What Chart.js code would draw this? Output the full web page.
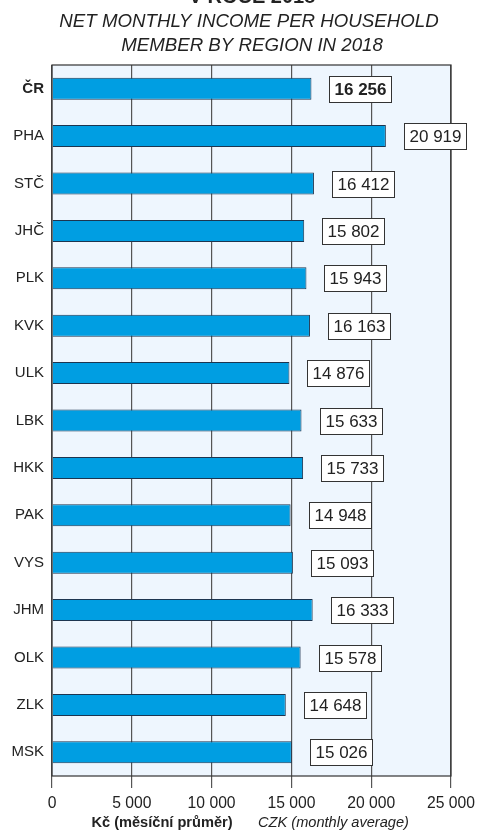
<!DOCTYPE html>
<html><head><meta charset="utf-8">
<script src="https://cdn.jsdelivr.net/npm/chart.js@4"></script>
<style>html,body{margin:0;padding:0;background:#fff}#wrap{width:481px;height:832px;position:relative}</style>
</head><body><div id="wrap"><canvas id="c" width="481" height="832"></canvas></div>
<script>
const regions = ["ČR","PHA","STČ","JHČ","PLK","KVK","ULK","LBK","HKK","PAK","VYS","JHM","OLK","ZLK","MSK"];
const income = [16256,20919,16412,15802,15943,16163,14876,15633,15733,14948,15093,16333,15578,14648,15026];
const xTicks = [0,5000,10000,15000,20000,25000];
const titleTop = "V ROCE 2018";
const titleLines = ["NET MONTHLY INCOME PER HOUSEHOLD","MEMBER BY REGION IN 2018"];
const axisCz = "Kč (měsíční průměr)";
const axisEn = "CZK (monthly average)";

const FONT = '"Liberation Sans", Arial, Helvetica, sans-serif';
const fmt = v => String(v).replace(/\B(?=(\d{3})+(?!\d))/g, ' ');

const deco = {
  id:'deco',
  beforeDraw(chart){
    const {ctx, chartArea:a} = chart;
    ctx.save();
    ctx.fillStyle = '#eef6fe';
    ctx.fillRect(a.left, a.top, a.right-a.left, a.bottom-a.top);
    ctx.restore();
  },
  afterDatasetsDraw(chart){
    const {ctx, chartArea:a} = chart;
    const xs = chart.scales.x, ys = chart.scales.y;
    ctx.save();
    ctx.strokeStyle = '#333';
    ctx.lineWidth = 1.2;
    ctx.strokeRect(a.left, a.top, a.right-a.left, a.bottom-a.top);
    income.forEach((v,i)=>{
      const bx = Math.round(xs.getPixelForValue(v) + 18);
      const by = ys.getPixelForValue(i);
      const bold = i===0;
      ctx.font = (bold?'bold ':'') + '17px ' + FONT;
      const t = fmt(v);
      const w = Math.round(ctx.measureText(t).width + 10);
      const h = 26;
      const top = Math.round(by-h/2);
      ctx.fillStyle = '#fff';
      ctx.fillRect(bx+0.5, top+0.5, w, h);
      ctx.strokeStyle = '#333';
      ctx.lineWidth = 1;
      ctx.strokeRect(bx+0.5, top+0.5, w, h);
      ctx.fillStyle = '#222';
      ctx.textAlign = 'left';
      ctx.textBaseline = 'middle';
      ctx.fillText(t, bx+5.5, by+1.5);
    });
    ctx.restore();
  },
  afterDraw(chart){
    const {ctx} = chart;
    ctx.save();
    ctx.fillStyle = '#222';
    ctx.textAlign = 'center';
    ctx.textBaseline = 'alphabetic';
    ctx.font = 'bold 20px ' + FONT;
    ctx.fillText(titleTop, 252, 2.5);
    ctx.font = 'italic 18.7px ' + FONT;
    ctx.fillText(titleLines[0], 249, 27);
    ctx.fillText(titleLines[1], 252, 51);
    ctx.textBaseline = 'middle';
    ctx.font = 'bold 14.6px ' + FONT;
    ctx.fillText(axisCz, 162, 823);
    ctx.font = 'italic 14.6px ' + FONT;
    ctx.fillText(axisEn, 333.5, 823);
    ctx.restore();
  }
};

new Chart(document.getElementById('c'), {
  type:'bar',
  data:{
    labels: regions,
    datasets:[{
      data: income,
      backgroundColor:'#009ee2',
      borderColor:'#1c3550',
      borderWidth:1,
      barPercentage:0.465,
      categoryPercentage:1
    }]
  },
  options:{
    indexAxis:'y',
    responsive:false,
    animation:false,
    devicePixelRatio:1,
    layout:{padding:{top:65,right:29,left:0,bottom:0}},
    plugins:{legend:{display:false},tooltip:{enabled:false},title:{display:false}},
    scales:{
      x:{
        min:0,max:25000,
        afterBuildTicks(s){ s.ticks = xTicks.map(v=>({value:v})); },
        afterFit(s){ s.height = 56; },
        grid:{color:'#555',lineWidth:1.2,tickLength:12,drawTicks:true,tickColor:'#555'},
        border:{display:false},
        ticks:{padding:6,color:'#222',font:{family:FONT,size:15.7},callback:v=>fmt(v),maxRotation:0}
      },
      y:{
        afterFit(s){ s.width = 52; },
        grid:{display:false,drawTicks:false,tickLength:0},
        border:{display:false},
        ticks:{padding:8,color:'#222',
          font:ctx=>({family:FONT,size:15,weight: ctx.index===0?'bold':'normal'})}
      }
    }
  },
  plugins:[deco]
});
</script></body></html>
